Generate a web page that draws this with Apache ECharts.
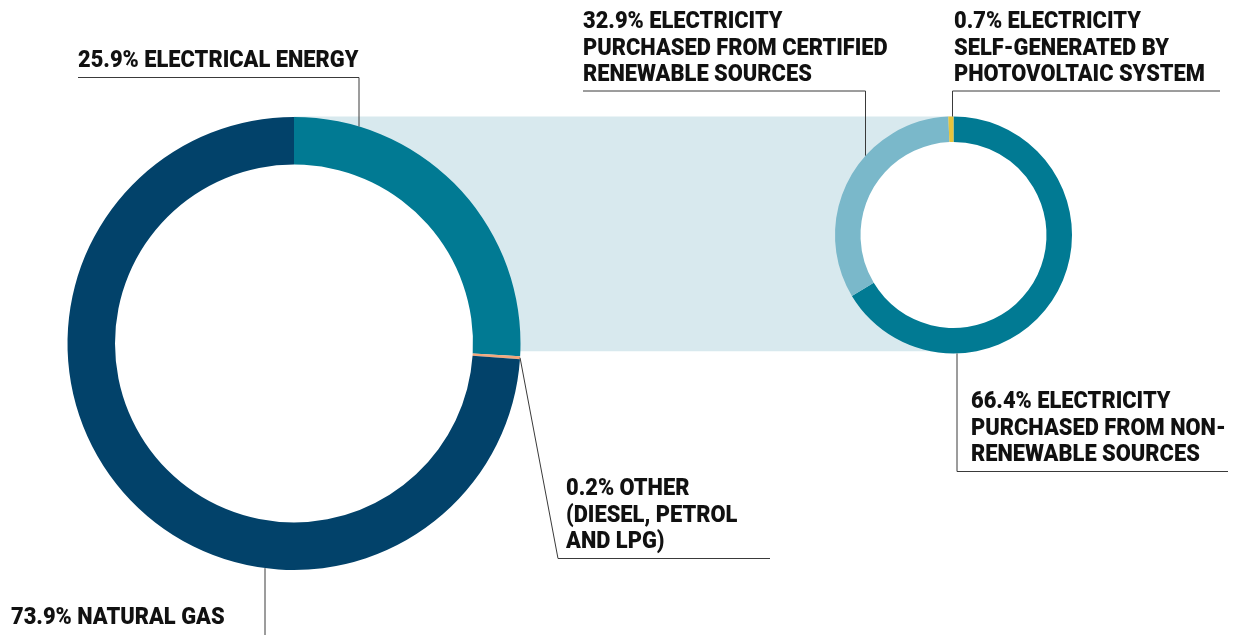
<!DOCTYPE html>
<html>
<head>
<meta charset="utf-8">
<title>Energy consumption by source</title>
<script src="https://cdn.jsdelivr.net/npm/echarts@6/dist/echarts.min.js"></script>
<style>
  html, body { margin: 0; padding: 0; background: #ffffff; }
  #chart { width: 1245px; height: 635px; }
</style>
</head>
<body>
<div id="chart"></div>
<script>
// Total energy consumption by source (%)
const energyNames = ['ELECTRICAL ENERGY', 'OTHER', 'NATURAL GAS'];
const energyValues = [25.9, 0.2, 73.9];
const energyColors = ['#017a93', '#f3a77c', '#02426a'];

// Breakdown of electricity by origin (%)
const electricityNames = [
  'ELECTRICITY PURCHASED FROM NON-RENEWABLE SOURCES',
  'ELECTRICITY PURCHASED FROM CERTIFIED RENEWABLE SOURCES',
  'ELECTRICITY SELF-GENERATED BY PHOTOVOLTAIC SYSTEM'
];
const electricityValues = [66.4, 32.9, 0.7];
const electricityColors = ['#017a93', '#7ab8ca', '#e6c43c'];

// Label lines (text after the percentage, split into rows)
const energyLabelRows = [
  ['ELECTRICAL ENERGY'],
  ['OTHER', '(DIESEL, PETROL', 'AND LPG)'],
  ['NATURAL GAS']
];
const electricityLabelRows = [
  ['ELECTRICITY', 'PURCHASED FROM NON-', 'RENEWABLE SOURCES'],
  ['ELECTRICITY', 'PURCHASED FROM CERTIFIED', 'RENEWABLE SOURCES'],
  ['ELECTRICITY', 'SELF-GENERATED BY', 'PHOTOVOLTAIC SYSTEM']
];

// Donut geometry
const bigPie = { cx: 294, cy: 343.5, r0: 179, r1: 226.5 };
const smallPie = { cx: 953.5, cy: 235, r0: 93, r1: 118.5 };

const chart = echarts.init(document.getElementById('chart'), null, { renderer: 'canvas' });

const FONT = '900 23px Roboto, "Noto Sans", sans-serif';
const TEXT_SCALE = 0.95;
const ROW_GAP = 26.8;
const LINE_COLOR = '#3a3a3a';

function labelBlock(x, yFirst, rows) {
  return rows.map((row, i) => ({
    type: 'text',
    x: x,
    y: yFirst + i * ROW_GAP,
    scaleX: TEXT_SCALE,
    z: 100,
    silent: true,
    style: {
      text: row,
      font: FONT,
      fill: '#111111',
      textVerticalAlign: 'middle',
      textAlign: 'left'
    }
  }));
}

function leader(points) {
  return {
    type: 'polyline',
    z: 90,
    silent: true,
    shape: { points: points },
    style: { stroke: LINE_COLOR, lineWidth: 1, fill: null }
  };
}

// Point on the outer edge of a donut at a cumulative percentage (clockwise from 12 o'clock)
function edgeAt(p, pct) {
  const a = pct / 100 * Math.PI * 2;
  return [p.cx + p.r1 * Math.sin(a), p.cy - p.r1 * Math.cos(a)];
}
// Outer edge of a donut crossed by a vertical line at x (top or bottom)
function edgeAtX(p, x, bottom) {
  const d = Math.sqrt(p.r1 * p.r1 - (x - p.cx) * (x - p.cx));
  return bottom ? p.cy + d : p.cy - d;
}

const pct = v => v.toFixed(1) + '% ';

function withPct(value, rows) {
  return [pct(value) + rows[0]].concat(rows.slice(1));
}

const otherEdge = edgeAt(bigPie, energyValues[0] + energyValues[1] / 2);

function hole(p) {
  return {
    type: 'circle',
    z: -5,
    silent: true,
    shape: { cx: p.cx, cy: p.cy, r: p.r0 + 1 },
    style: { fill: '#ffffff' }
  };
}

const graphics = [
  // Band joining the electrical share to its breakdown
  {
    type: 'rect',
    z: -10,
    silent: true,
    shape: {
      x: bigPie.cx,
      y: smallPie.cy - smallPie.r1,
      width: smallPie.cx - bigPie.cx,
      height: edgeAt(bigPie, energyValues[0])[1] - (smallPie.cy - smallPie.r1) - 5
    },
    style: { fill: '#d8e9ee' }
  },
  hole(bigPie),
  hole(smallPie),
  // Electrical energy
  leader([[78, 77.5], [359, 77.5], [359, edgeAtX(bigPie, 359, false)]]),
  ...labelBlock(78, 61, withPct(energyValues[0], energyLabelRows[0])),
  // Other fuels
  leader([otherEdge, [558, 558.5], [770, 558.5]]),
  ...labelBlock(566, 489, withPct(energyValues[1], energyLabelRows[1])),
  // Natural gas
  leader([[265, edgeAtX(bigPie, 265, true)], [265, 640]]),
  ...labelBlock(11, 618, withPct(energyValues[2], energyLabelRows[2])),
  // Certified renewable electricity
  leader([[583, 91], [865.5, 91], [865.5, edgeAtX(smallPie, 865.5, false)]]),
  ...labelBlock(583, 22, withPct(electricityValues[1], electricityLabelRows[1])),
  // Photovoltaic self-generation
  leader([[1220, 91], [952.5, 91], [952.5, edgeAtX(smallPie, 952.5, false)]]),
  ...labelBlock(954, 22, withPct(electricityValues[2], electricityLabelRows[2])),
  // Non-renewable electricity
  leader([[957, edgeAtX(smallPie, 957, true)], [957, 471.5], [1228, 471.5]]),
  ...labelBlock(971, 402, withPct(electricityValues[0], electricityLabelRows[0]))
];

function pieSeries(p, names, values, colors) {
  return {
    type: 'pie',
    center: [p.cx, p.cy],
    radius: [p.r0, p.r1],
    startAngle: 90,
    clockwise: true,
    silent: true,
    avoidLabelOverlap: false,
    minAngle: 0,
    label: { show: false },
    labelLine: { show: false },
    emphasis: { disabled: true },
    itemStyle: { borderWidth: 0 },
    data: names.map((n, i) => ({ name: n, value: values[i], itemStyle: { color: colors[i] } }))
  };
}

chart.setOption({
  animation: false,
  backgroundColor: '#ffffff',
  tooltip: { show: false },
  series: [
    pieSeries(bigPie, energyNames, energyValues, energyColors),
    pieSeries(smallPie, electricityNames, electricityValues, electricityColors)
  ],
  graphic: graphics
});
</script>
</body>
</html>
